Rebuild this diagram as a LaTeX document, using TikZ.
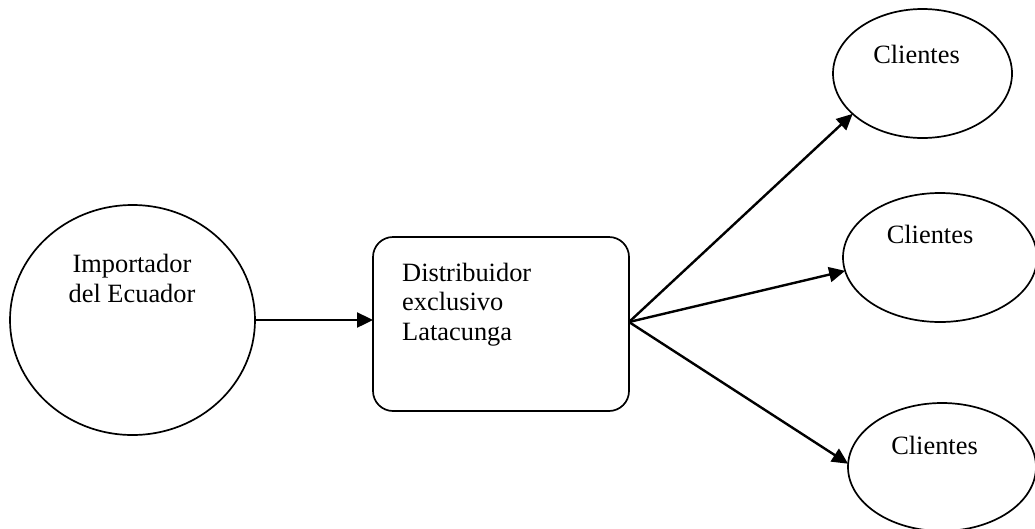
\documentclass[tikz,border=0pt]{standalone}
\usepackage{fontspec}
\setmainfont{Liberation Serif}
\usetikzlibrary{shapes.geometric,arrows.meta}
\begin{document}
\begin{tikzpicture}[x=1pt,y=-1pt,
 shp/.style={draw,line width=1.7pt,outer sep=0pt,inner sep=0pt},
 oval/.style={shp,ellipse},
 lbl/.style={font=\fontsize{26.4}{29.5}\selectfont,inner sep=0pt,align=center},
 arr/.style={line width=2.4pt,-{Triangle[length=16pt,width=15pt]}}]
\useasboundingbox (0,0) rectangle (1035,528);
\node[oval,minimum width=245pt,minimum height=230pt] (imp) at (132.5,320) {};
\node[shp,rounded corners=20pt,minimum width=256pt,minimum height=174pt] (dist) at (501,324) {};
\node[oval,minimum width=179pt,minimum height=129pt] (c1) at (922.5,73.5) {};
\node[oval,minimum width=194pt,minimum height=129pt] (c2) at (940,257.5) {};
\node[oval,minimum width=188pt,minimum height=128pt] (c3) at (942,467) {};
\node[lbl,anchor=base] (timp) at (132,302) {Importador\\del Ecuador};
\node[lbl,anchor=base west,align=left] (tdist) at (402,340) {Distribuidor\\exclusivo\\Latacunga};
\node[lbl,anchor=base] (t1) at (916.5,63) {Clientes};
\node[lbl,anchor=base] (t2) at (930,243) {Clientes};
\node[lbl,anchor=base] (t3) at (934.5,454) {Clientes};
\coordinate (hub) at ([yshift=2pt]dist.east);
\draw[arr] (imp.east) -- (imp.east -| dist.west);
\draw[arr] (hub) -- (c1.210);
\draw[arr] (hub) -- (c2.188);
\draw[arr] (hub) -- (c3.178);
\end{tikzpicture}
\end{document}
